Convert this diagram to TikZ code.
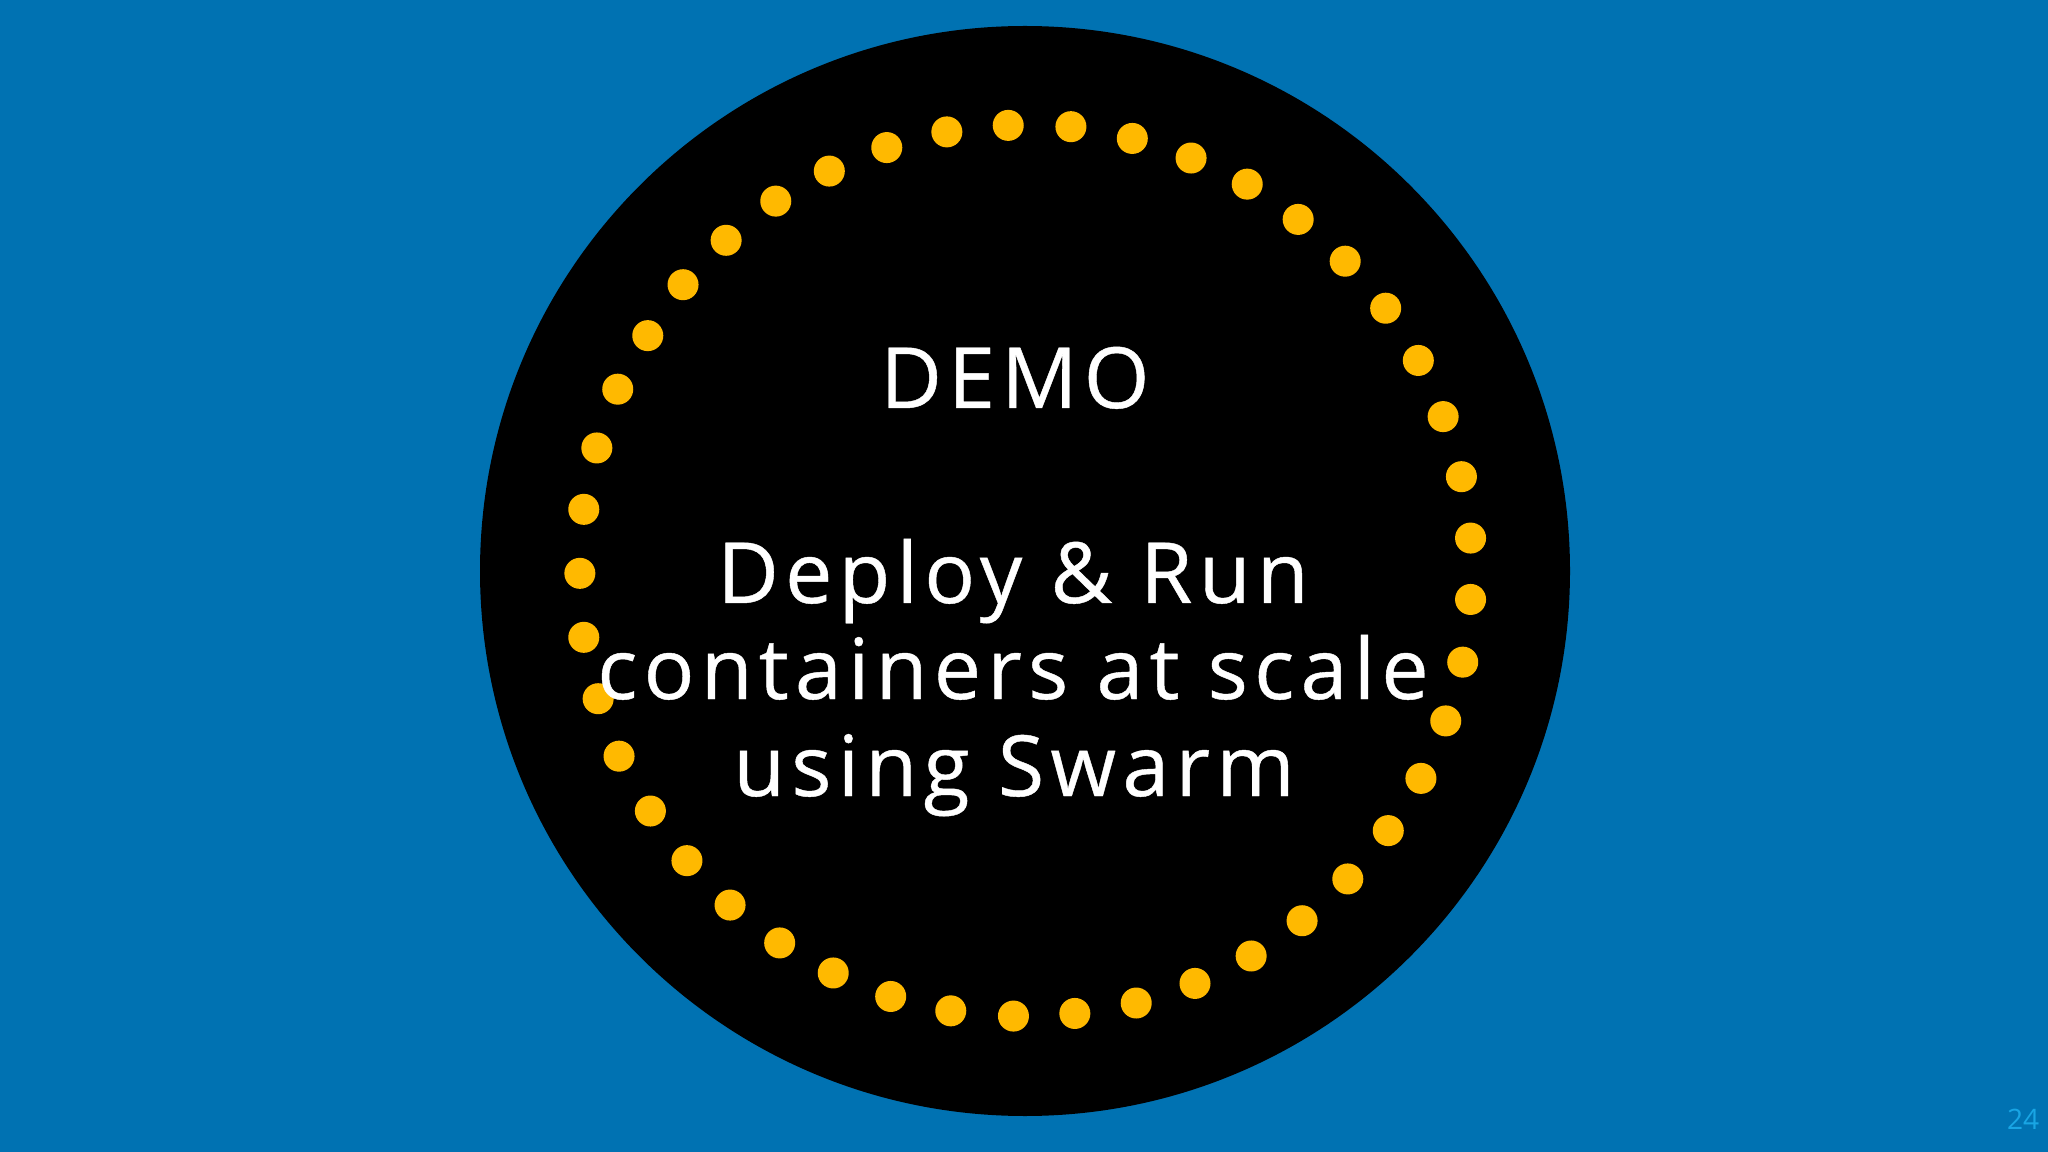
\documentclass[tikz,border=0pt]{standalone}
\usepackage{fontspec}
\setmainfont{Open Sans}
\newfontfamily\slidefont[LetterSpace=7.4,FakeBold=0.5]{Open Sans}
\definecolor{slideblue}{RGB}{0,114,178}
\definecolor{dotyellow}{RGB}{255,185,0}
\definecolor{pagegrey}{RGB}{25,165,228}
\tikzset{
	dotmark/.style={circle, fill=dotyellow, inner sep=0pt, minimum size=0.31cm},
	slidetext/.style={text=white, anchor=base, inner sep=0pt, font=\slidefont\fontsize{24}{24}\selectfont}
}
\begin{document}
\begin{tikzpicture}[x=0.01cm, y=-0.01cm]
	%%%%% START %%%%%
	\useasboundingbox (0, 0) rectangle (2048, 1152);
	\fill[slideblue] (0, 0) rectangle (2048, 1152);
	\fill[black] (1025, 571) circle (545);

	\foreach \dx/\dy in {772/96, 820/97, 867/106, 912/121, 955/141, 994/168, 1030/200, 1061/236, 1086/276,
		1105/319, 1119/365, 1126/412, 1126/459, 1120/507, 1107/552, 1088/596, 1063/636, 1032/673, 997/705,
		958/732, 915/753, 870/768, 823/776, 776/778, 728/774, 682/763, 638/745, 597/722, 559/693, 526/659,
		498/621, 474/579, 458/535, 447/488, 444/439, 447/390, 457/343, 473/298, 496/257, 523/218, 556/184,
		594/154, 635/131, 679/113, 725/101}
		\node[dotmark] (dot\dx) at (1.306*\dx, 1.306*\dy) {};

	\node[slidetext] (demo) at (1015, 408) {DEMO};
	\node[slidetext] (deploy) at (1013, 603) {Deploy \& Run};
	\node[slidetext] (containers) at (1013, 699) {containers at scale};
	\node[slidetext] (swarm) at (1014, 796) {using Swarm};
	\node[text=pagegrey, font=\fontsize{8}{8}\selectfont, anchor=base east, inner sep=0pt] (pagenum) at (2040, 1129) {24};
	%%%%% END %%%%%
\end{tikzpicture}
\end{document}
